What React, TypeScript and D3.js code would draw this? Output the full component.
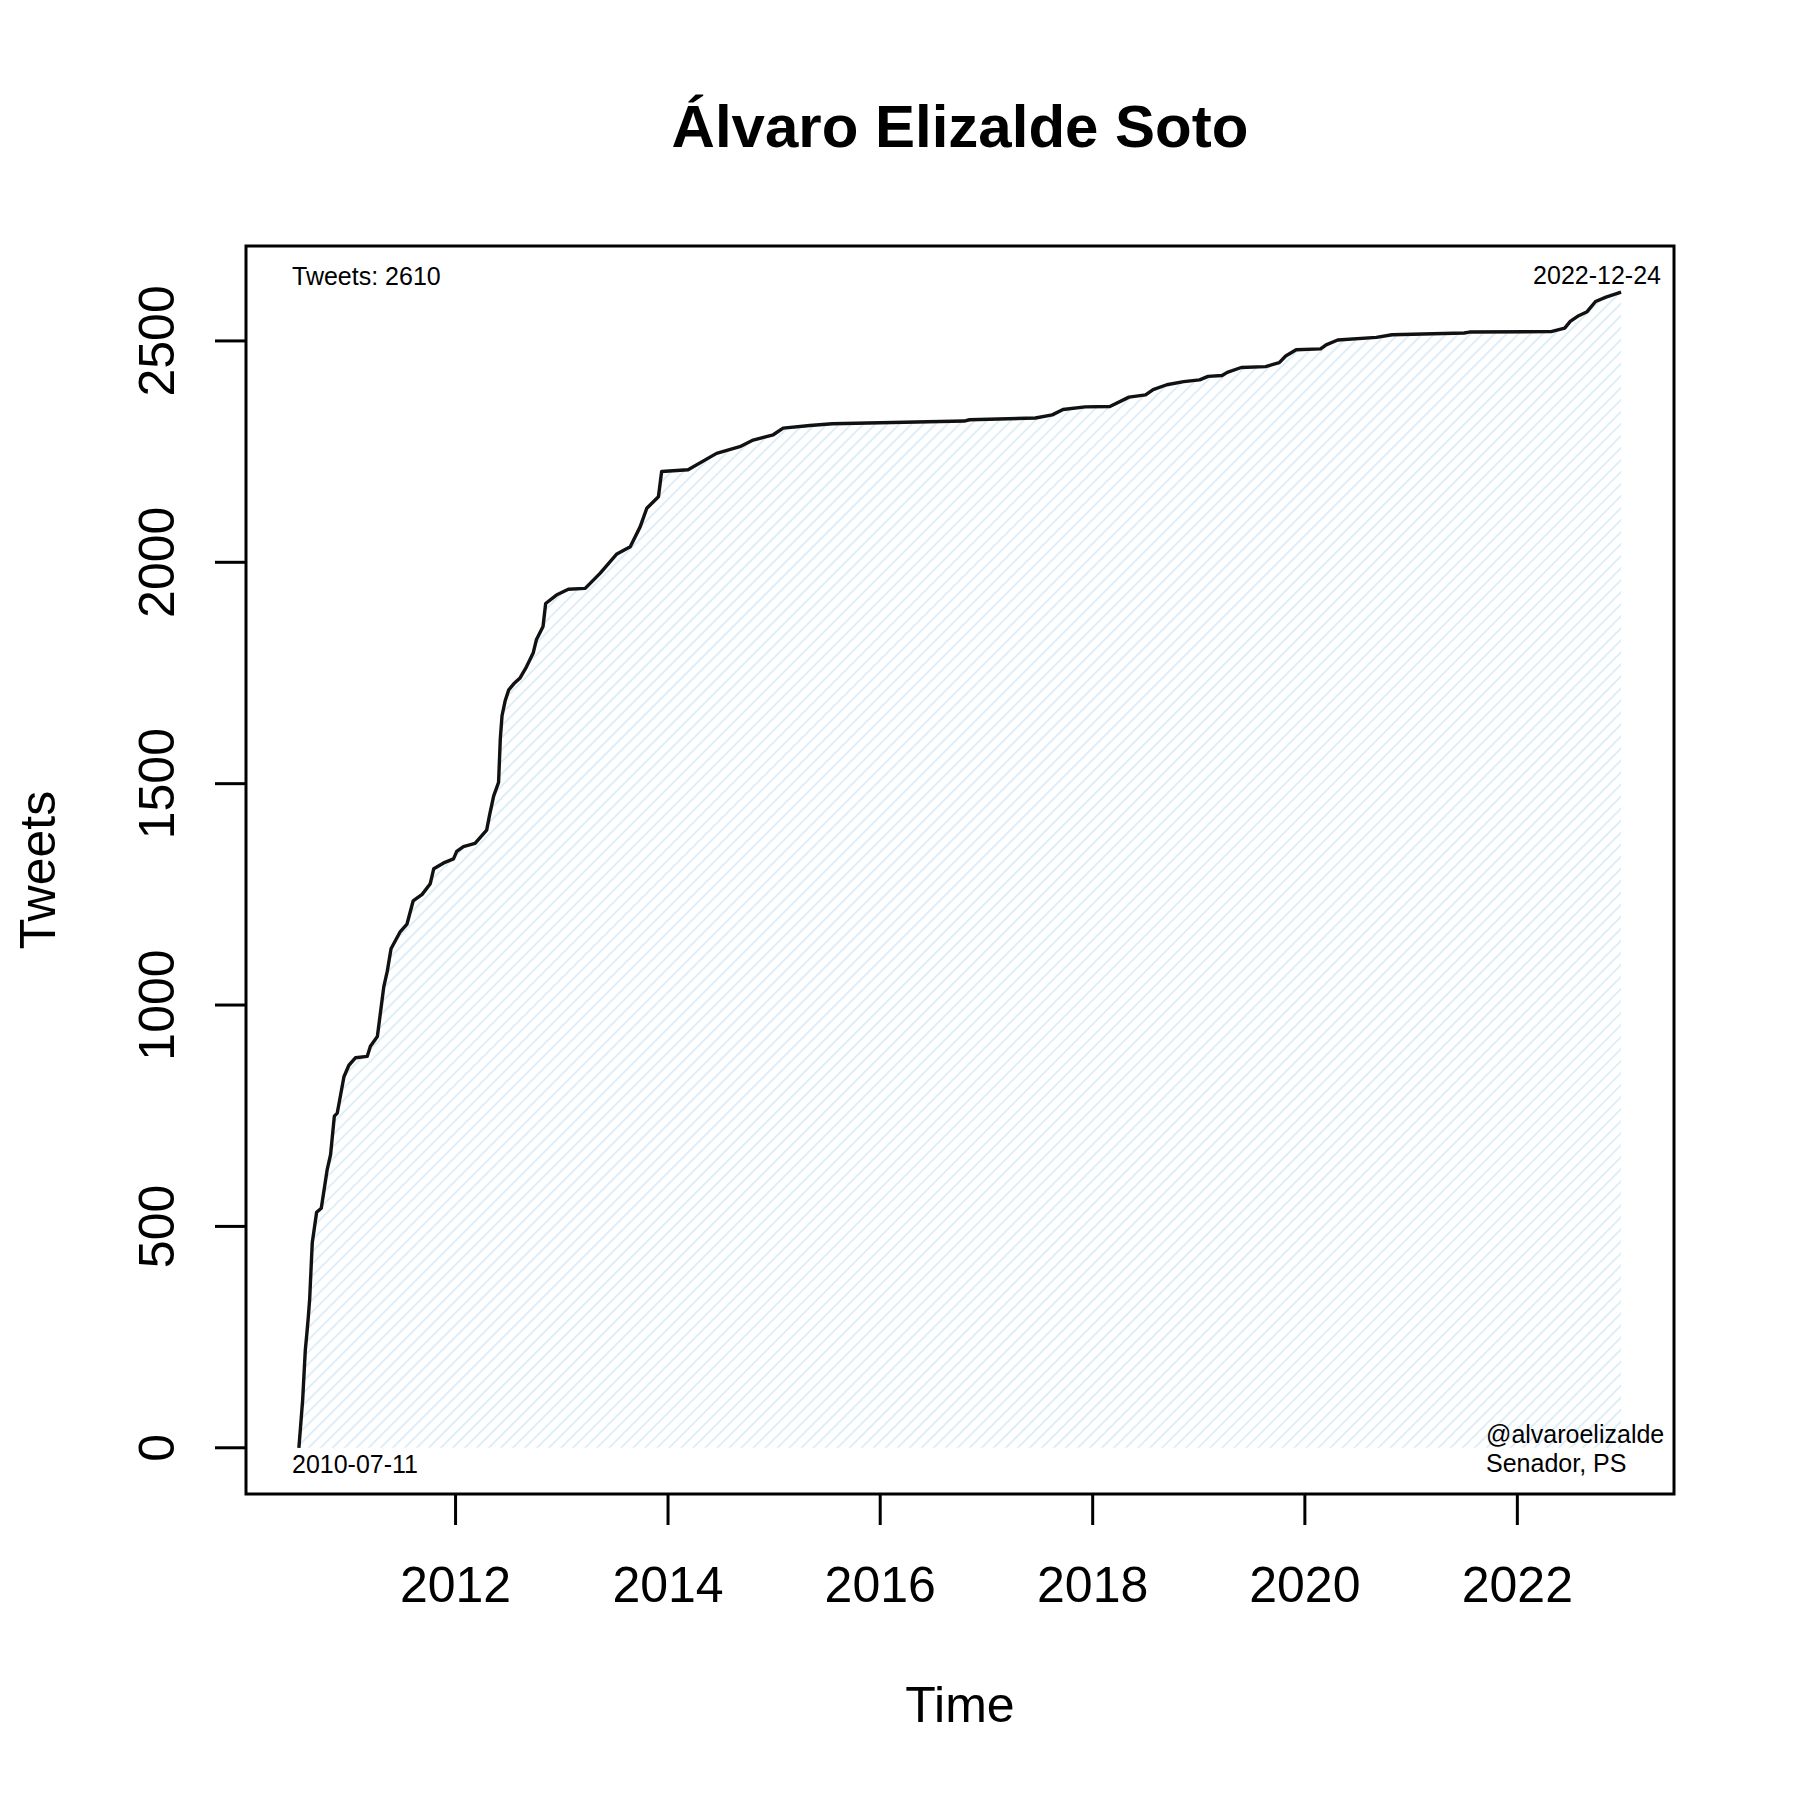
import * as d3 from 'd3';

// cumulative tweet count
const dates = [
  "2010-07-11", "2010-07-24", "2010-08-02", "2010-08-08", "2010-08-13", "2010-08-17",
  "2010-08-26", "2010-09-10", "2010-09-26", "2010-10-16", "2010-10-28", "2010-11-10",
  "2010-11-20", "2010-12-13", "2010-12-30", "2011-01-22", "2011-03-03", "2011-03-14",
  "2011-04-07", "2011-04-29", "2011-05-11", "2011-05-24", "2011-06-25", "2011-07-18",
  "2011-08-08", "2011-09-08", "2011-10-06", "2011-10-18", "2011-11-21", "2011-12-25",
  "2012-01-05", "2012-01-28", "2012-03-08", "2012-04-17", "2012-04-27", "2012-05-11",
  "2012-05-28", "2012-06-03", "2012-06-09", "2012-06-20", "2012-07-02", "2012-07-20",
  "2012-08-09", "2012-09-01", "2012-09-24", "2012-10-05", "2012-10-28", "2012-11-06",
  "2012-12-13", "2013-01-23", "2013-03-22", "2013-05-12", "2013-07-09", "2013-08-24",
  "2013-09-27", "2013-10-20", "2013-11-29", "2013-12-10", "2014-03-11", "2014-06-17",
  "2014-09-05", "2014-10-21", "2014-12-29", "2015-02-01", "2015-05-04", "2015-07-20",
  "2016-10-16", "2016-11-03", "2017-06-18", "2017-08-15", "2017-09-21", "2017-12-06",
  "2018-03-01", "2018-05-06", "2018-07-02", "2018-07-28", "2018-09-13", "2018-11-10",
  "2019-01-04", "2019-02-02", "2019-03-22", "2019-04-09", "2019-05-27", "2019-08-19",
  "2019-10-05", "2019-10-27", "2019-12-02", "2020-02-24", "2020-03-14", "2020-04-23",
  "2020-09-03", "2020-10-27", "2021-07-02", "2021-07-20", "2022-04-27", "2022-06-13",
  "2022-07-02", "2022-07-31", "2022-08-29", "2022-09-27", "2022-11-02", "2022-12-24",
];
const tweets = [
  0, 108, 220, 262, 300, 335,
  463, 532, 541, 627, 662, 749,
  756, 838, 864, 881, 884, 907,
  929, 1041, 1076, 1127, 1166, 1183,
  1235, 1250, 1274, 1308, 1321, 1330,
  1347, 1358, 1365, 1395, 1429, 1472,
  1503, 1602, 1654, 1688, 1712, 1726,
  1738, 1764, 1795, 1825, 1855, 1907,
  1926, 1939, 1941, 1975, 2019, 2035,
  2080, 2122, 2148, 2205, 2209, 2246,
  2261, 2276, 2288, 2303, 2309, 2313,
  2319, 2322, 2326, 2333, 2345, 2351,
  2352, 2373, 2378, 2390, 2401, 2408,
  2412, 2420, 2422, 2429, 2440, 2442,
  2451, 2466, 2480, 2482, 2491, 2502,
  2508, 2514, 2518, 2520, 2521, 2529,
  2544, 2557, 2566, 2589, 2599, 2610,
];

const xTickYears = [2012, 2014, 2016, 2018, 2020, 2022];
const yTicks = [0, 500, 1000, 1500, 2000, 2500];

const title = "Álvaro Elizalde Soto";
const handle = "@alvaroelizalde";
const role = "Senador, PS";

const W = 1800, H = 1800;
const margin = { top: 246, right: 126, bottom: 306, left: 246 };
const font = "'Liberation Sans', Arial, Helvetica, sans-serif";

const App = () => {
  const parse = d3.timeParse("%Y-%m-%d");
  const data = dates.map((d, i) => ({ date: parse(d)!, n: tweets[i] }));

  // R style axis ranges: data range padded by 4% each side
  const [t0, t1] = d3.extent(data, d => d.date.getTime()) as [number, number];
  const padT = (t1 - t0) * 0.04;
  const nMax = d3.max(tweets)!;
  const padN = nMax * 0.04;

  const x = d3.scaleTime()
    .domain([new Date(t0 - padT), new Date(t1 + padT)])
    .range([margin.left, W - margin.right]);
  const y = d3.scaleLinear()
    .domain([-padN, nMax + padN])
    .range([H - margin.bottom, margin.top]);

  const line = d3.line<{ date: Date; n: number }>()
    .x(d => x(d.date))
    .y(d => y(d.n));
  const area = d3.area<{ date: Date; n: number }>()
    .x(d => x(d.date))
    .y0(y(0))
    .y1(d => y(d.n));

  const x0 = margin.left, x1 = W - margin.right;
  const yTop = margin.top, yBot = H - margin.bottom;
  const fmt = d3.timeFormat("%Y-%m-%d");
  const first = data[0], last = data[data.length - 1];

  return (
    <svg width={W} height={H} style={{ position: 'absolute', left: 0, top: 0, background: '#fff' }}
      fontFamily={font}>
      <defs>
        <pattern id="hatch" patternUnits="userSpaceOnUse" width={8.5} height={8.5}
          patternTransform="rotate(45)">
          <line x1={0} y1={0} x2={0} y2={8.5} stroke="#dcedf7" strokeWidth={3.6} />
        </pattern>
      </defs>
      <rect width={W} height={H} fill="#fff" />

      <path d={area(data)!} fill="url(#hatch)" />
      <path d={line(data)!} fill="none" stroke="#111" strokeWidth={3.4} strokeLinejoin="round" />

      {/* box */}
      <rect x={x0} y={yTop} width={x1 - x0} height={yBot - yTop} fill="none" stroke="#000" strokeWidth={3} />

      {/* x axis */}
      {xTickYears.map(yr => {
        const px = x(new Date(yr, 0, 1));
        return (
          <g key={yr}>
            <line x1={px} x2={px} y1={yBot} y2={yBot + 31} stroke="#000" strokeWidth={3} />
            <text x={px} y={1602} fontSize={50} textAnchor="middle">{yr}</text>
          </g>
        );
      })}

      {/* y axis */}
      {yTicks.map(v => (
        <g key={v}>
          <line x1={x0 - 31} x2={x0} y1={y(v)} y2={y(v)} stroke="#000" strokeWidth={3} />
          <text transform={`translate(174,${y(v)}) rotate(-90)`} fontSize={50} textAnchor="middle">{v}</text>
        </g>
      ))}

      <text x={(x0 + x1) / 2} y={147} fontSize={60} fontWeight="bold" textAnchor="middle">{title}</text>
      <text x={(x0 + x1) / 2} y={1722} fontSize={50} textAnchor="middle">Time</text>
      <text transform={`translate(55,${(yTop + yBot) / 2}) rotate(-90)`} fontSize={50} textAnchor="middle">Tweets</text>

      {/* annotations */}
      <text x={292} y={285} fontSize={25}>{`Tweets: ${last.n}`}</text>
      <text x={1661} y={284} fontSize={25} textAnchor="end">{fmt(last.date)}</text>
      <text x={292} y={1473} fontSize={25}>{fmt(first.date)}</text>
      <text x={1486} y={1443} fontSize={25}>{handle}</text>
      <text x={1486} y={1472} fontSize={25}>{role}</text>
    </svg>
  );
};

export default App;
